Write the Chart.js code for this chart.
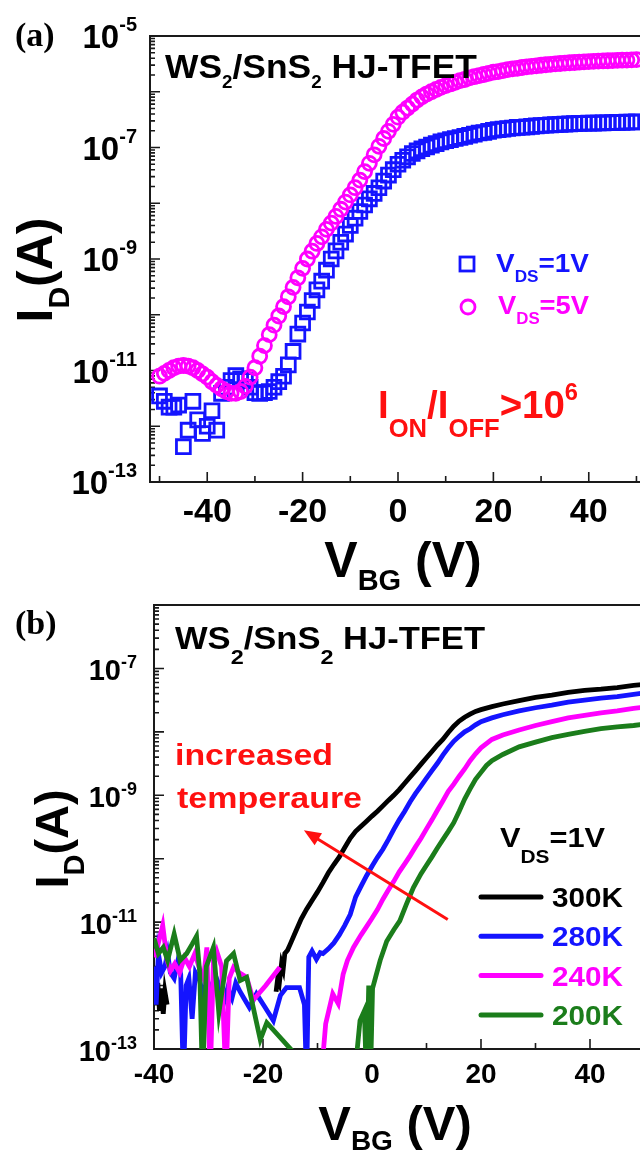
<!DOCTYPE html>
<html>
<head>
<meta charset="utf-8">
<script src="https://cdn.jsdelivr.net/npm/chart.js@4.4.1/dist/chart.umd.min.js"></script>
<style>
  html, body { margin: 0; padding: 0; background: #fff; overflow: hidden; }
  #wrap { position: relative; width: 640px; height: 1155px; overflow: hidden; }
  canvas { position: absolute; left: 0; }
  #chartA { top: 0; }
  #chartB { top: 585px; }
</style>
</head>
<body>
<div id="wrap">
  <canvas id="chartA" width="660" height="600"></canvas>
  <canvas id="chartB" width="660" height="570"></canvas>
</div>
<script>
// ---- panel (a): transfer curves at two drain biases ----
var vbgA = [-50, -49, -48, -47, -46, -45, -44, -43, -42, -41,
  -40, -39, -38, -37, -36, -35, -34, -33, -32, -31,
  -30, -29, -28, -27, -26, -25, -24, -23, -22, -21,
  -20, -19, -18, -17, -16, -15, -14, -13, -12, -11,
  -10, -9, -8, -7, -6, -5, -4, -3, -2, -1,
  0, 1, 2, 3, 4, 5, 6, 7, 8, 9,
  10, 11, 12, 13, 14, 15, 16, 17, 18, 19,
  20, 21, 22, 23, 24, 25, 26, 27, 28, 29,
  30, 31, 32, 33, 34, 35, 36, 37, 38, 39,
  40, 41, 42, 43, 44, 45, 46, 47, 48, 49,
  50];
var idVds1 = [3.5e-12, 2.8e-12, 2.2e-12, 2.2e-12, 2.4e-12, 4.3e-13, 8.5e-13, 2.8e-12, 1.3e-12, 7.4e-13,
  1.0e-12, 1.9e-12, 8.5e-13, 3.9e-12, 5.0e-12, 6.6e-12, 8.1e-12, 7.1e-12, 6.6e-12, 5.0e-12,
  4.0e-12, 3.9e-12, 4.0e-12, 4.2e-12, 5.0e-12, 6.3e-12, 7.9e-12, 1.26e-11, 2.2e-11, 4.5e-11,
  7.1e-11, 1.12e-10, 1.8e-10, 2.8e-10, 4.0e-10, 6.3e-10, 1.0e-9, 1.4e-9, 2.0e-9, 2.8e-9,
  4.0e-9, 5.4e-9, 7.1e-9, 9.3e-9, 1.2e-8, 1.5e-8, 1.9e-8, 2.5e-8, 3.2e-8, 4.0e-8,
  5.0e-8, 5.9e-8, 6.8e-8, 7.8e-8, 8.7e-8, 9.5e-8, 1.02e-7, 1.1e-7, 1.17e-7, 1.26e-7,
  1.32e-7, 1.38e-7, 1.45e-7, 1.51e-7, 1.58e-7, 1.66e-7, 1.74e-7, 1.82e-7, 1.86e-7, 1.95e-7,
  2.04e-7, 2.09e-7, 2.14e-7, 2.19e-7, 2.24e-7, 2.29e-7, 2.31e-7, 2.34e-7, 2.4e-7, 2.45e-7,
  2.48e-7, 2.51e-7, 2.54e-7, 2.57e-7, 2.6e-7, 2.63e-7, 2.66e-7, 2.68e-7, 2.7e-7, 2.72e-7,
  2.73e-7, 2.74e-7, 2.75e-7, 2.76e-7, 2.78e-7, 2.8e-7, 2.82e-7, 2.83e-7, 2.85e-7, 2.87e-7,
  2.88e-7];
var idVds5 = [7.9e-12, 8.9e-12, 1.0e-11, 1.12e-11, 1.2e-11, 1.23e-11, 1.2e-11, 1.12e-11, 1.0e-11, 8.7e-12,
  7.6e-12, 6.3e-12, 5.4e-12, 4.7e-12, 4.2e-12, 3.9e-12, 3.9e-12, 4.2e-12, 5.2e-12, 7.6e-12,
  1.12e-11, 1.8e-11, 2.8e-11, 4.4e-11, 6.5e-11, 9.5e-11, 1.4e-10, 2.1e-10, 3.1e-10, 4.6e-10,
  6.8e-10, 1.0e-9, 1.38e-9, 1.9e-9, 2.5e-9, 3.4e-9, 4.4e-9, 5.8e-9, 7.8e-9, 1.05e-8,
  1.41e-8, 1.9e-8, 2.6e-8, 3.7e-8, 5.2e-8, 7.4e-8, 1.05e-7, 1.45e-7, 1.95e-7, 2.6e-7,
  3.5e-7, 4.3e-7, 5.1e-7, 6.0e-7, 7.1e-7, 8.1e-7, 9.1e-7, 1.0e-6, 1.1e-6, 1.2e-6,
  1.29e-6, 1.38e-6, 1.48e-6, 1.58e-6, 1.66e-6, 1.78e-6, 1.86e-6, 1.95e-6, 2.04e-6, 2.14e-6,
  2.24e-6, 2.3e-6, 2.4e-6, 2.5e-6, 2.57e-6, 2.63e-6, 2.72e-6, 2.79e-6, 2.85e-6, 2.92e-6,
  2.99e-6, 3.05e-6, 3.1e-6, 3.16e-6, 3.21e-6, 3.26e-6, 3.31e-6, 3.35e-6, 3.39e-6, 3.43e-6,
  3.47e-6, 3.5e-6, 3.55e-6, 3.57e-6, 3.6e-6, 3.63e-6, 3.66e-6, 3.68e-6, 3.7e-6, 3.73e-6,
  3.76e-6];
var xMajorA = [-40, -20, 0, 20, 40];
var xMinorA = [-50, -30, -10, 10, 30, 50];
var yLabelExpA = [-5, -7, -9, -11, -13];

// ---- panel (b): temperature dependence at VDS = 1 V ----
var vbg300 = [-39.6, -39.3, -39.0, -38.7, -38.3, -38.0, -37.6, -37.3,
  -17.6, -17.3, -17.0, -16.6, -16.3, -16.0, -15.5, -15, -14, -13, -12, -11, -10, -9, -8, -7, -6, -5, -4, -3, -2, -1,
  0, 1, 2, 3, 4, 5, 6, 7, 8, 9, 10, 11, 12, 13, 14, 15, 16, 17, 18, 19, 20, 22, 24, 27, 30, 33, 36, 39, 42, 45, 48, 50];
var id300 = [6e-13, 1.1e-12, 4e-13, 9e-13, 3.6e-13, 8e-13, 5e-13, null,
  8e-13, 1.3e-12, 1.1e-12, 2.2e-12, 1.8e-12, 3.2e-12, 3.6e-12, 4.5e-12, 7.1e-12, 1.12e-11, 1.6e-11, 2.2e-11, 3.0e-11, 4.2e-11, 6.0e-11, 8.1e-11, 1.07e-10, 1.5e-10, 2.1e-10, 2.7e-10, 3.25e-10, 3.9e-10,
  4.7e-10, 5.6e-10, 6.8e-10, 8.3e-10, 1.0e-9, 1.23e-9, 1.55e-9, 1.95e-9, 2.45e-9, 3.1e-9, 3.9e-9, 4.9e-9, 6.2e-9, 7.6e-9, 9.8e-9, 1.23e-8, 1.48e-8, 1.7e-8, 1.9e-8, 2.1e-8, 2.24e-8, 2.5e-8, 2.75e-8, 3.1e-8, 3.5e-8, 3.8e-8, 4.2e-8, 4.5e-8, 4.7e-8, 5.0e-8, 5.4e-8, 5.6e-8];

var vbg280 = [-40, -39.6, -39.2, -38.6, -38, -37.5, -37, -36.3, -35.6, -35.1, -34.6, -34.1, -33.6, -33, -32.4, -31.6, -31, -30.3, -29.5, -28.8,
  -28, -27.3, -26.5, -25.7, -25, -24.2, -23.5, -22.5, -21.2, -19.6, -18.1, -16.8, -15.7, -13.3, -12.4, -12.0, -11.6, -11.0, -10.2, -9.5,
  -9, -8, -7, -6, -5, -4, -3, -2, -1, 0, 1, 2, 3, 4, 5, 6, 7, 8, 9, 10,
  11, 12, 13, 14, 15, 16, 17, 18, 19, 20, 22, 24, 27, 30, 33, 36, 39, 42, 45, 48, 50];
var id280 = [2e-12, 5e-13, 3.2e-12, 1.6e-12, 2e-12, 3.2e-12, 1.6e-12, 1.3e-12, 2.5e-12, 1.5e-12, 3e-14, 1e-12, 1.3e-12, 3e-13, 1.6e-12, 1.2e-12, 6.3e-13, 1.3e-12, 8e-13, 1.5e-12,
  1e-12, 5e-13, 9e-13, 6.3e-13, 1.1e-12, 8e-13, 6.3e-13, 4.5e-13, 7.4e-13, 4.5e-13, 2.8e-13, 7e-13, 9.3e-13, 9.3e-13, 5e-13, 3e-14, 2.8e-12, 3.5e-12, 2.6e-12, 3.3e-12,
  3.2e-12, 3.8e-12, 4.7e-12, 6.3e-12, 8.9e-12, 1.32e-11, 2.5e-11, 3.7e-11, 5.4e-11, 7.6e-11, 1.05e-10, 1.41e-10, 2.0e-10, 2.9e-10, 4.1e-10, 5.6e-10, 7.9e-10, 1.07e-9, 1.41e-9, 1.86e-9,
  2.45e-9, 3.2e-9, 4.3e-9, 5.6e-9, 7.1e-9, 8.5e-9, 1.0e-8, 1.12e-8, 1.29e-8, 1.45e-8, 1.66e-8, 1.86e-8, 2.14e-8, 2.4e-8, 2.63e-8, 2.95e-8, 3.16e-8, 3.4e-8, 3.6e-8, 3.9e-8, 4.1e-8];

var vbg240 = [-40, -39.4, -38.4, -37.6, -37, -36.2, -35.3, -34.4, -33.5, -32.5, -31.6, -30.9, -30.3, -29.7, -29.1, -28.5, -27.6, -26.8, -26.2, -25.4,
  -24.4, -23, -21.8, -19.5, -16.9, -16.6, -9.4, -8.5, -7.2, -6.2, -5.3, -4.5, -3.4, -2, -1, 0, 1, 2, 3, 4,
  5, 6, 7, 8, 9, 10, 11, 12, 13, 14, 15, 16, 17, 18, 19, 20, 22, 24, 27, 30, 33, 36, 39, 42, 45, 48, 50];
var id240 = [2.8e-12, 4e-12, 8.9e-12, 2.5e-12, 1.7e-12, 2.2e-12, 1.6e-12, 2.75e-12, 2e-12, 3.2e-12, 1.8e-12, 1.3e-12, 4e-12, 3e-14, 2.5e-12, 3.5e-12, 2e-12, 3e-14, 1.3e-12, 1.95e-12,
  1.6e-12, 1.35e-12, 5.9e-13, 1e-12, 1.95e-12, null, 3e-14, 2.5e-13, 7.4e-13, 5.2e-13, 1.5e-12, 2.5e-12, 4e-12, 6.3e-12, 8.5e-12, 1.15e-11, 1.58e-11, 2.3e-11, 3.2e-11, 4.4e-11,
  6.2e-11, 8.3e-11, 1.12e-10, 1.55e-10, 2.1e-10, 2.95e-10, 4.1e-10, 5.8e-10, 8.1e-10, 1.15e-9, 1.5e-9, 2.0e-9, 2.6e-9, 3.5e-9, 4.5e-9, 5.6e-9, 7.6e-9, 8.9e-9, 1.07e-8, 1.26e-8, 1.45e-8, 1.66e-8, 1.82e-8, 2.0e-8, 2.14e-8, 2.34e-8, 2.45e-8];

var vbg200 = [-40, -39.2, -38.3, -37.5, -36.3, -35.2, -34, -33, -32.2, -31.6, -31.1, -30.4, -29.1, -28.1, -26.7, -25.4, -24.2, -23, -20.5, -19.3,
  -12.6, -12.4, -3.3, -2.2, -1.4, -1, -0.6, -0.3, 0.1, 0.7, 1.5, 2.7, 4, 5.1, 6.3, 7.6, 9, 10, 11, 12,
  13, 14, 15, 16, 17, 18, 19, 20, 21, 22, 24, 27, 30, 33, 36, 39, 42, 45, 48, 50];
var id200 = [5.6e-12, 3.2e-12, 4e-12, 2.5e-12, 6.5e-12, 2.5e-12, 3.2e-12, 4.5e-12, 6e-12, 1.6e-12, 3e-14, 2e-12, 4e-12, 3.7e-13, 2.45e-12, 3.2e-12, 1.2e-12, 1.35e-12, 1.4e-13, 2.6e-13,
  6e-14, null, 3e-14, 2.8e-13, 4e-13, 3e-14, 1e-12, 3e-14, 9e-13, 1.4e-12, 2.5e-12, 5e-12, 7.6e-12, 1.05e-11, 1.9e-11, 3.5e-11, 5.8e-11, 7.9e-11, 1.07e-10, 1.48e-10,
  2.0e-10, 2.7e-10, 3.7e-10, 5.6e-10, 8.7e-10, 1.26e-9, 1.78e-9, 2.3e-9, 2.95e-9, 3.5e-9, 4.4e-9, 5.8e-9, 6.9e-9, 8.1e-9, 9.1e-9, 1.02e-8, 1.12e-8, 1.2e-8, 1.26e-8, 1.32e-8];

var tempLabels = ['300K', '280K', '240K', '200K'];
var xMajorB = [-40, -20, 0, 20, 40];
var xMinorB = [-30, -10, 10, 30];
var yLabelExpB = [-7, -9, -11, -13];
// red arrow "increased temperature": tail, head
var arrowX = [13.9, -12.5];
var arrowY = [1.1e-11, 2.8e-10];

var BLUE = '#1414ff', MAGENTA = '#ff00ff', GREEN = '#1b7d1b', RED = '#ff1010';
var FONT = '"Liberation Sans", Arial, sans-serif';

function pts(xs, ys) {
  return xs.map(function (v, i) { return { x: v, y: ys[i] }; });
}

// draw a run of text pieces [text, size, dy], optionally squeezed to a width
function rich(ctx, segs, x, y, align, width) {
  var w = 0;
  segs.forEach(function (s) {
    ctx.font = 'bold ' + s[1] + 'px ' + FONT;
    w += ctx.measureText(s[0]).width;
  });
  var k = width ? width / w : 1;
  var x0 = align === 'center' ? x - w * k / 2 : (align === 'right' ? x - w * k : x);
  ctx.save();
  ctx.translate(x0, y);
  ctx.scale(k, 1);
  ctx.textAlign = 'left';
  ctx.textBaseline = 'alphabetic';
  var cx = 0;
  segs.forEach(function (s) {
    ctx.font = 'bold ' + s[1] + 'px ' + FONT;
    ctx.fillText(s[0], cx, s[2] || 0);
    cx += ctx.measureText(s[0]).width;
  });
  ctx.restore();
}

// frame with inward ticks, log minor ticks on the left
function drawFrame(chart, ax) {
  var ctx = chart.ctx, a = chart.chartArea;
  var xs = chart.scales.x, ys = chart.scales.y;
  ctx.save();
  ctx.strokeStyle = '#1a1a1a';
  ctx.lineWidth = 2;
  ctx.strokeRect(a.left, a.top, a.right - a.left, a.bottom - a.top);
  ctx.lineWidth = 1.6;
  ctx.beginPath();
  ax.xMajor.forEach(function (v) {
    var p = xs.getPixelForValue(v);
    ctx.moveTo(p, a.bottom); ctx.lineTo(p, a.bottom - 10);
  });
  ax.xMinor.forEach(function (v) {
    var p = xs.getPixelForValue(v);
    ctx.moveTo(p, a.bottom); ctx.lineTo(p, a.bottom - 6);
  });
  for (var e = ax.yLo; e <= ax.yHi; e++) {
    var p = ys.getPixelForValue(Math.pow(10, e));
    ctx.moveTo(a.left, p); ctx.lineTo(a.left + 10, p);
    if (e < ax.yHi) {
      for (var m = 2; m <= 9; m++) {
        var q = ys.getPixelForValue(m * Math.pow(10, e));
        ctx.moveTo(a.left, q); ctx.lineTo(a.left + 5, q);
      }
    }
  }
  ctx.stroke();
  ctx.restore();
}

function drawLabels(chart, ax) {
  var ctx = chart.ctx, xs = chart.scales.x, ys = chart.scales.y;
  ctx.save();
  ctx.fillStyle = '#000';
  ax.yExp.forEach(function (e) {
    var p = ys.getPixelForValue(Math.pow(10, e));
    rich(ctx, [['10', ax.ySize, 0], [String(e), ax.supSize, ax.supDy]], ax.yLabelRight, p + ax.yOff, 'right');
  });
  ax.xMajor.forEach(function (v) {
    rich(ctx, [[String(v), ax.xSize, 0]], xs.getPixelForValue(v), ax.xBase, 'center');
  });
  rich(ctx, ax.xTitle, ax.xTitleX, ax.xTitleY, 'center');
  ctx.translate(ax.yTitleX, ax.yTitleY);
  ctx.rotate(-Math.PI / 2);
  rich(ctx, ax.yTitle, 0, 0, 'center');
  ctx.restore();
}

var axA = {
  xMajor: xMajorA, xMinor: xMinorA, yLo: -13, yHi: -5, yExp: yLabelExpA,
  ySize: 33, supSize: 20, supDy: -17, yLabelRight: 137, yOff: 12,
  xSize: 34, xBase: 522,
  xTitle: [['V', 50, 0], ['BG', 29, 13], [' (V)', 50, 0]], xTitleX: 403, xTitleY: 577,
  yTitle: [['I', 50, 0], ['D', 30, 17], ['(A)', 50, 0]], yTitleX: 52, yTitleY: 270
};

var panelA = {
  id: 'panelA',
  beforeDatasetsDraw: function (chart) { drawFrame(chart, axA); },
  afterDatasetsDraw: function (chart) {
    var ctx = chart.ctx;
    drawLabels(chart, axA);
    ctx.save();
    ctx.fillStyle = '#000';
    ctx.font = 'bold 34px "Liberation Serif", "Times New Roman", serif';
    ctx.fillText('(a)', 15, 46);
    rich(ctx, [['WS', 34, 0], ['2', 18, 10], ['/SnS', 34, 0], ['2', 18, 10], [' HJ-TFET', 34, 0]], 165, 78, 'left', 312);
    // legend
    ctx.lineWidth = 2.8;
    ctx.strokeStyle = BLUE;
    ctx.strokeRect(460, 257, 14, 14);
    ctx.strokeStyle = MAGENTA;
    ctx.beginPath(); ctx.arc(468, 307, 7, 0, Math.PI * 2); ctx.stroke();
    ctx.fillStyle = BLUE;
    rich(ctx, [['V', 26, 0], ['DS', 16, 10], ['=1V', 26, 0]], 496, 272, 'left', 93);
    ctx.fillStyle = MAGENTA;
    rich(ctx, [['V', 26, 0], ['DS', 16, 10], ['=5V', 26, 0]], 498, 314, 'left', 91);
    ctx.fillStyle = RED;
    rich(ctx, [['I', 39, 0], ['ON', 26, 19], ['/I', 39, 0], ['OFF', 26, 19], ['>10', 39, 0], ['6', 24, -18]], 378, 418, 'left', 200);
    ctx.restore();
  }
};

var axB = {
  xMajor: xMajorB, xMinor: xMinorB, yLo: -13, yHi: -6, yExp: yLabelExpB,
  ySize: 29, supSize: 18, supDy: -12, yLabelRight: 137, yOff: 12,
  xSize: 28, xBase: 498,
  xTitle: [['V', 49, 0], ['BG', 28, 10], [' (V)', 49, 0]], xTitleX: 395, xTitleY: 555,
  yTitle: [['I', 47, 0], ['D', 29, 16], ['(A)', 47, 0]], yTitleX: 68, yTitleY: 254
};

var panelB = {
  id: 'panelB',
  beforeDatasetsDraw: function (chart) { drawFrame(chart, axB); },
  afterDatasetsDraw: function (chart) {
    var ctx = chart.ctx, xs = chart.scales.x, ys = chart.scales.y;
    drawLabels(chart, axB);
    ctx.save();
    ctx.fillStyle = '#000';
    ctx.font = 'bold 34px "Liberation Serif", "Times New Roman", serif';
    ctx.fillText('(b)', 15, 49);
    rich(ctx, [['WS', 31, 0], ['2', 21, 15], ['/SnS', 31, 0], ['2', 21, 15], [' HJ-TFET', 31, 0]], 175, 64, 'left', 310);
    ctx.fillStyle = RED;
    rich(ctx, [['increased', 30, 0]], 175, 180, 'left', 158);
    rich(ctx, [['temperaure', 30, 0]], 177, 223, 'left', 185);
    // arrow
    var x0 = xs.getPixelForValue(arrowX[0]), y0 = ys.getPixelForValue(arrowY[0]);
    var x1 = xs.getPixelForValue(arrowX[1]), y1 = ys.getPixelForValue(arrowY[1]);
    var ang = Math.atan2(y1 - y0, x1 - x0);
    ctx.strokeStyle = RED;
    ctx.lineWidth = 3;
    ctx.beginPath();
    ctx.moveTo(x0, y0);
    ctx.lineTo(x1 - 12 * Math.cos(ang), y1 - 12 * Math.sin(ang));
    ctx.stroke();
    ctx.beginPath();
    ctx.moveTo(x1, y1);
    ctx.lineTo(x1 - 17 * Math.cos(ang) + 7 * Math.sin(ang), y1 - 17 * Math.sin(ang) - 7 * Math.cos(ang));
    ctx.lineTo(x1 - 17 * Math.cos(ang) - 7 * Math.sin(ang), y1 - 17 * Math.sin(ang) + 7 * Math.cos(ang));
    ctx.closePath();
    ctx.fill();
    // legend
    ctx.fillStyle = '#000';
    rich(ctx, [['V', 28, 0], ['DS', 19, 16], ['=1V', 28, 0]], 500, 262, 'left', 105);
    var cols = ['#000', BLUE, MAGENTA, GREEN];
    tempLabels.forEach(function (t, i) {
      var y = 312 + i * 39.3;
      ctx.strokeStyle = cols[i];
      ctx.lineWidth = 5;
      ctx.lineCap = 'round';
      ctx.beginPath(); ctx.moveTo(481, y); ctx.lineTo(541, y); ctx.stroke();
      ctx.fillStyle = cols[i];
      rich(ctx, [[t, 28, 0]], 552, y + 10, 'left', 71);
    });
    ctx.restore();
  }
};

new Chart(document.getElementById('chartA'), {
  type: 'scatter',
  data: {
    datasets: [
      { label: 'VDS=5V', data: pts(vbgA, idVds5), pointStyle: 'circle', pointRadius: 7,
        pointBorderWidth: 2.8, pointBorderColor: MAGENTA, pointBackgroundColor: 'rgba(0,0,0,0)', order: 1 },
      { label: 'VDS=1V', data: pts(vbgA, idVds1), pointStyle: 'rect', pointRadius: 9.8,
        pointBorderWidth: 2.8, pointBorderColor: BLUE, pointBackgroundColor: 'rgba(0,0,0,0)', order: 2 }
    ]
  },
  options: {
    responsive: false, animation: false, events: [],
    layout: { padding: { left: 150, top: 36, right: 14, bottom: 118 } },
    scales: {
      x: { type: 'linear', min: -52, max: 52, display: false },
      y: { type: 'logarithmic', min: 1e-13, max: 1e-5, display: false }
    },
    plugins: { legend: { display: false }, tooltip: { enabled: false } }
  },
  plugins: [panelA]
});

function lineSet(label, xs, ys, color, order) {
  return { label: label, data: pts(xs, ys), showLine: true, borderColor: color, borderWidth: 4.8,
    pointRadius: 0, tension: 0, spanGaps: false, order: order };
}

new Chart(document.getElementById('chartB'), {
  type: 'scatter',
  data: {
    datasets: [
      lineSet('300K', vbg300, id300, '#000', 4),
      lineSet('280K', vbg280, id280, BLUE, 3),
      lineSet('240K', vbg240, id240, MAGENTA, 2),
      lineSet('200K', vbg200, id200, GREEN, 1)
    ]
  },
  options: {
    responsive: false, animation: false, events: [],
    layout: { padding: { left: 154, top: 20, right: 15.5, bottom: 106 } },
    scales: {
      x: { type: 'linear', min: -40, max: 50, display: false },
      y: { type: 'logarithmic', min: 1e-13, max: 1e-6, display: false }
    },
    plugins: { legend: { display: false }, tooltip: { enabled: false } }
  },
  plugins: [panelB]
});
</script>
</body>
</html>
